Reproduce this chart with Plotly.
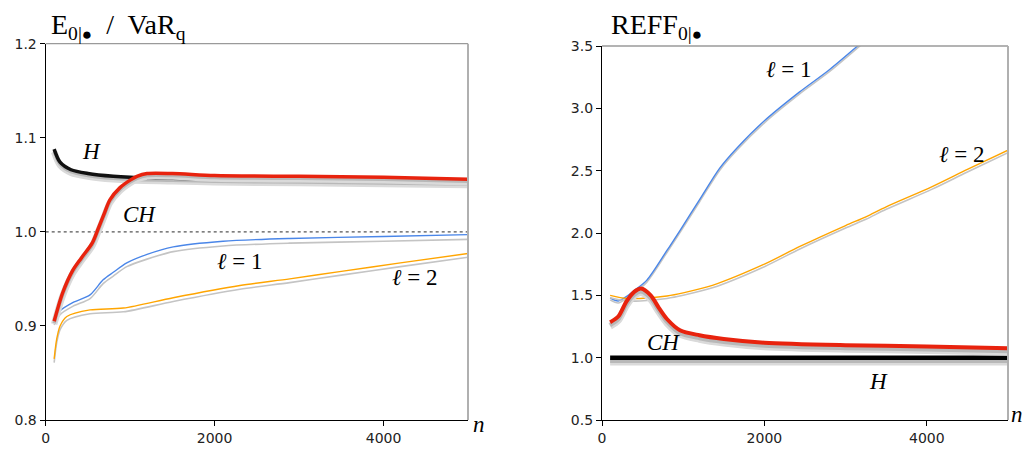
import plotly.graph_objects as go

# ---------------- data ----------------
# Left panel: E_{0|.} / VaR_q
n_H_left = [100, 170, 300, 500, 800, 1000, 1500, 2000, 3000, 4000, 5000]
H_left = [1.088, 1.074, 1.066, 1.062, 1.059, 1.058, 1.057, 1.056, 1.055, 1.054, 1.053]

n_CH_left = [100, 200, 320, 420, 550, 620, 700, 760, 880, 1000, 1080, 1200, 1500, 2000, 3000, 4000, 5000]
CH_left = [0.905, 0.935, 0.959, 0.972, 0.988, 1.003, 1.021, 1.034, 1.047, 1.055, 1.059, 1.062, 1.062, 1.060, 1.059, 1.058, 1.056]

n_L1_left = [100, 170, 325, 525, 680, 800, 960, 1200, 1510, 2100, 2890, 4000, 5000]
L1_left = [0.905, 0.916, 0.925, 0.933, 0.949, 0.957, 0.967, 0.976, 0.984, 0.990, 0.993, 0.995, 0.997]
L1_left_ref = [0.901, 0.912, 0.921, 0.929, 0.945, 0.953, 0.963, 0.971, 0.979, 0.985, 0.988, 0.990, 0.992]

n_L2_left = [100, 130, 170, 250, 525, 920, 1510, 2300, 2890, 3500, 4200, 5000]
L2_left = [0.865, 0.886, 0.900, 0.910, 0.917, 0.919, 0.930, 0.943, 0.950, 0.958, 0.967, 0.977]
L2_left_ref = [0.861, 0.882, 0.896, 0.906, 0.913, 0.915, 0.926, 0.939, 0.946, 0.954, 0.963, 0.973]

# Right panel: REFF_{0|.}
n_L1_right = [100, 200, 300, 400, 550, 800, 960, 1200, 1450, 1660, 2000, 2430, 2800, 3200]
L1_right = [1.48, 1.455, 1.49, 1.54, 1.62, 1.86, 2.02, 2.265, 2.52, 2.68, 2.90, 3.13, 3.31, 3.53]

n_L2_right = [100, 300, 470, 800, 1000, 1360, 2000, 2430, 3000, 3250, 3500, 4060, 4500, 5000]
L2_right = [1.50, 1.475, 1.475, 1.495, 1.52, 1.58, 1.75, 1.89, 2.06, 2.13, 2.21, 2.37, 2.51, 2.665]

n_CH_right = [100, 200, 300, 400, 480, 600, 700, 800, 960, 1200, 1500, 2000, 3000, 4000, 5000]
CH_right = [1.285, 1.33, 1.45, 1.53, 1.555, 1.50, 1.40, 1.31, 1.22, 1.18, 1.15, 1.12, 1.10, 1.09, 1.075]

n_H_right = [100, 5000]
H_right = [1.0, 1.0]

x_ticks = [0, 2000, 4000]
y_ticks_left = [0.8, 0.9, 1.0, 1.1, 1.2]
y_ticks_right = [0.5, 1.0, 1.5, 2.0, 2.5, 3.0, 3.5]

# ---------------- styles ----------------
OFF = 8  # page body margin offset
W, Hh = 1032 - OFF, 454 - OFF
left_px = (45.7 - OFF, 468.0 - OFF, 43.7 - OFF, 420.0 - OFF)   # x0, x1, ytop, ybottom
right_px = (602.0 - OFF, 1008.0 - OFF, 46.0 - OFF, 420.0 - OFF)

RED = "#e8230e"
BLUE = "#4a86e8"
ORANGE = "#ffa500"
SH1 = "#dadada"
SH2 = "#b8b8b8"

fig = go.Figure()

left_unit = 0.4 / (left_px[3] - left_px[2])     # data units per px
right_unit = 3.0 / (right_px[3] - right_px[2])


def line(x, y, color, width, xa, ya, shape="spline", dash=None):
    fig.add_trace(go.Scatter(x=x, y=y, mode="lines", xaxis=xa, yaxis=ya,
                             line=dict(color=color, width=width, shape=shape, smoothing=0.8, dash=dash),
                             hoverinfo="skip", showlegend=False))


def shadowed(x, y, color, width, xa, ya, unit, off_px):
    line(x, [v - off_px * unit for v in y], SH1, width + 3, xa, ya)
    line(x, [v - (off_px - 1) * unit for v in y], SH2, width, xa, ya)
    line(x, y, color, width, xa, ya)


# left panel
line([0, 5000], [1.0, 1.0], "#555555", 1.3, "x", "y", "linear", "dot")
line(n_L1_left, L1_left_ref, "#c4c4c4", 1.6, "x", "y")
line(n_L1_left, L1_left, BLUE, 1.4, "x", "y")
line(n_L2_left, L2_left_ref, "#c4c4c4", 1.6, "x", "y")
line(n_L2_left, L2_left, ORANGE, 1.4, "x", "y")
shadowed(n_H_left, H_left, "#111111", 3.5, "x", "y", left_unit, 3)
shadowed(n_CH_left, CH_left, RED, 3.5, "x", "y", left_unit, 3)

# right panel
line(n_L1_right, [v - 2 * right_unit for v in L1_right], "#c4c4c4", 1.6, "x2", "y2")
line(n_L1_right, L1_right, BLUE, 1.4, "x2", "y2")
line(n_L2_right, [v - 2.5 * right_unit for v in L2_right], "#c4c4c4", 1.6, "x2", "y2")
line(n_L2_right, L2_right, ORANGE, 1.4, "x2", "y2")
shadowed(n_H_right, H_right, "#000000", 4.5, "x2", "y2", right_unit, 4)
shadowed(n_CH_right, CH_right, RED, 4, "x2", "y2", right_unit, 4)

tickfont = dict(family="DejaVu Sans", size=14, color="#222222")


def dom_x(px):
    return [px[0] / W, px[1] / W]


def dom_y(px):
    return [1 - px[3] / Hh, 1 - px[2] / Hh]


common_x = dict(range=[0, 5000], tickvals=x_ticks, ticks="outside", ticklen=5,
                tickcolor="#000", showline=True, linecolor="#000", linewidth=1.3,
                showgrid=False, zeroline=False, tickfont=tickfont, automargin=False)
common_y = dict(ticks="outside", ticklen=5, tickcolor="#000", showline=True,
                linecolor="#000", linewidth=1.3, showgrid=False, zeroline=False,
                tickfont=tickfont, tickformat=".1f", automargin=False)

fig.update_layout(
    width=W, height=Hh,
    margin=dict(l=0, r=0, t=0, b=0, autoexpand=False),
    paper_bgcolor="white", plot_bgcolor="white",
    xaxis=dict(domain=dom_x(left_px), anchor="y", **common_x),
    yaxis=dict(domain=dom_y(left_px), anchor="x", range=[0.8, 1.2], tickvals=y_ticks_left, **common_y),
    xaxis2=dict(domain=dom_x(right_px), anchor="y2", **common_x),
    yaxis2=dict(domain=dom_y(right_px), anchor="x2", range=[0.5, 3.5], tickvals=y_ticks_right, **common_y),
)

# top and right frame lines (gray)
for xr, yr in (("x", "y"), ("x2", "y2")):
    fig.add_shape(type="line", xref=f"{xr} domain", yref=f"{yr} domain", x0=0, x1=1, y0=1, y1=1,
                  line=dict(color="#9a9a9a", width=1.3))
    fig.add_shape(type="line", xref=f"{xr} domain", yref=f"{yr} domain", x0=1, x1=1, y0=0, y1=1,
                  line=dict(color="#b0b0b0", width=2))

afont = dict(family="Liberation Serif", size=23, color="#000")


def label(text, x, y, xa, ya):
    fig.add_annotation(text=text, x=x, y=y, xref=xa, yref=ya, showarrow=False, font=afont,
                       xanchor="center", yanchor="middle")


label("<i>H</i>", 548, 1.085, "x", "y")
label("<i>CH</i>", 1115, 1.018, "x", "y")
label("<i>ℓ</i> = 1", 2300, 0.968, "x", "y")
label("<i>ℓ</i> = 2", 4370, 0.952, "x", "y")

label("<i>ℓ</i> = 1", 2307, 3.31, "x2", "y2")
label("<i>ℓ</i> = 2", 4430, 2.63, "x2", "y2")
label("<i>CH</i>", 760, 1.12, "x2", "y2")
label("<i>H</i>", 3410, 0.805, "x2", "y2")

# axis "n" labels
fig.add_annotation(text="<i>n</i>", x=(479 - OFF) / W, y=1 - (424 - OFF) / Hh, xref="paper", yref="paper",
                   xanchor="center", yanchor="middle", showarrow=False, font=afont)
fig.add_annotation(text="<i>n</i>", x=(1017 - OFF) / W, y=1 - (414 - OFF) / Hh, xref="paper", yref="paper",
                   xanchor="center", yanchor="middle", showarrow=False, font=afont)

# titles
tfont = dict(family="Liberation Serif", size=28, color="#000")
bullet = "<span style='font-size:17px'>●</span>"
sp = "\u00a0"
fig.add_annotation(text=f"E<sub>0|{bullet}</sub>{sp} /{sp} VaR<sub>q</sub>", x=(50 - OFF) / W, y=1,
                   xref="paper", yref="paper", xanchor="left", yanchor="top", borderpad=0,
                   showarrow=False, font=tfont)
fig.add_annotation(text=f"REFF<sub>0|{bullet}</sub>", x=(610 - OFF) / W, y=1,
                   xref="paper", yref="paper", xanchor="left", yanchor="top", borderpad=0,
                   showarrow=False, font=tfont)

fig.write_html("out.html")
